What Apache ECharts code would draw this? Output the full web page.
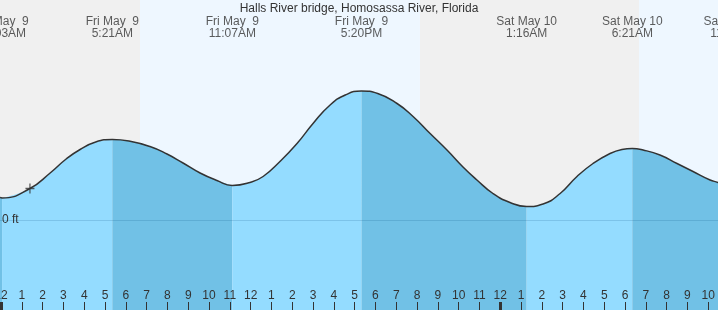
<!DOCTYPE html>
<html>
<head>
<meta charset="utf-8">
<script src="https://cdn.jsdelivr.net/npm/echarts@6/dist/echarts.min.js"></script>
<style>
html,body{margin:0;padding:0;background:#f0f0f0;}
#chart{width:718px;height:310px;}
</style>
</head>
<body>
<div id="chart"></div>
<script>
// ---- Data (hours since Fri May 9 00:00, tide height in feet) ----
const tideHours = [-0.05, 0.05, 1.39, 2.36, 3.13, 3.80, 4.55, 5.35, 6.15, 7.16, 7.98, 8.75, 9.57, 10.38, 11.12,
  11.97, 12.60, 13.41, 14.23, 15.00, 15.82, 16.55, 17.33, 18.11, 19.04, 19.81, 20.63, 21.44, 22.21, 22.88,
  23.65, 24.47, 25.27, 26.06, 26.88, 27.69, 28.46, 29.28, 29.85, 30.35, 30.87, 31.68, 32.50, 33.27, 34.09,
  34.47, 35.23];
const tideFeet = [0.45, 0.44, 0.63, 0.94, 1.22, 1.41, 1.56, 1.61, 1.58, 1.47, 1.32, 1.14, 0.94, 0.79, 0.69,
  0.75, 0.87, 1.17, 1.53, 1.93, 2.30, 2.50, 2.58, 2.53, 2.33, 2.07, 1.73, 1.40, 1.06, 0.80,
  0.53, 0.35, 0.27, 0.32, 0.53, 0.87, 1.13, 1.33, 1.41, 1.43, 1.40, 1.30, 1.13, 0.97, 0.80,
  0.75, 0.62];

const eventHours = [0.05, 5.35, 11.12, 17.33, 25.27, 30.35, 35.23];
const eventKinds = ['low', 'high', 'low', 'high', 'low', 'high', 'low'];
const eventDates = ['Fri May  9', 'Fri May  9', 'Fri May  9', 'Fri May  9', 'Sat May 10', 'Sat May 10', 'Sat May 10'];
const eventTimes = ['12:03AM', '5:21AM', '11:07AM', '5:20PM', '1:16AM', '6:21AM', '11:14AM'];

const dayStarts = [6.68, 30.67];
const dayEnds = [20.14, 36];

const hourTicks = [0,1,2,3,4,5,6,7,8,9,10,11,12,13,14,15,16,17,18,19,20,21,22,23,24,25,26,27,28,29,30,31,32,33,34];
const hourLabels = ['12','1','2','3','4','5','6','7','8','9','10','11','12','1','2','3','4','5','6','7','8','9','10','11','12','1','2','3','4','5','6','7','8','9','10'];
const midnightTicks = [0, 24];
const zeroLevel = [0];

const nowHour = 1.39;
const nowFeet = 0.63;

const xMin = -0.05, xMax = 34.47;
const yMin = -1.8, yMax = 4.4;

// ---- Build ----
const FONT = '"Liberation Sans", Arial, sans-serif';
const TEXT = '#333';
const LIGHT = '#94dcff';
const DARK = '#71c1e6';
const SMOOTH = 0.5;

const tidePts = tideHours.map((h, i) => [h, tideFeet[i]]);

const bounds = [tideHours[0]].concat(eventHours);
const segSeries = [];
for (let i = 0; i < bounds.length - 1; i++) {
  const a = bounds[i], b = bounds[i + 1];
  const pts = tidePts.filter(p => p[0] >= a && p[0] <= b);
  segSeries.push({
    type: 'line', data: pts, smooth: SMOOTH, showSymbol: false, silent: true,
    lineStyle: { width: 0 },
    areaStyle: { color: eventKinds[i] === 'low' ? DARK : LIGHT, opacity: 1, origin: 'start' },
    z: 2
  });
}

const chart = echarts.init(document.getElementById('chart'), null, { renderer: 'canvas' });
chart.setOption({
  animation: false,
  backgroundColor: '#f0f0f0',
  textStyle: { fontFamily: FONT },
  title: {
    text: 'Halls River bridge, Homosassa River, Florida',
    left: 'center', top: 3, padding: 0,
    textStyle: { fontSize: 12, fontWeight: 'normal', color: TEXT, fontFamily: FONT }
  },
  grid: { left: 0, right: 0, top: 0, bottom: 0, containLabel: false, outerBoundsMode: 'none' },
  xAxis: [
    {
      type: 'value', min: xMin, max: xMax, position: 'bottom', z: 10,
      axisLine: { show: false, onZero: false }, splitLine: { show: false },
      axisTick: { show: true, inside: true, length: 8, customValues: hourTicks, lineStyle: { color: TEXT, width: 1 } },
      axisLabel: {
        show: true, inside: true, margin: 8, customValues: hourTicks, color: TEXT, fontSize: 12, fontFamily: FONT,
        formatter: v => hourLabels[hourTicks.indexOf(Math.round(v))]
      }
    },
    {
      type: 'value', min: xMin, max: xMax, position: 'bottom', z: 11,
      axisLine: { show: false, onZero: false }, splitLine: { show: false },
      axisTick: { show: true, inside: true, length: 8, customValues: midnightTicks, lineStyle: { color: TEXT, width: 3 } },
      axisLabel: { show: false }
    }
  ],
  yAxis: [
    {
      type: 'value', min: yMin, max: yMax, z: 10,
      axisLine: { show: false, onZero: false }, axisTick: { show: false }, splitLine: { show: false },
      axisLabel: {
        show: true, inside: true, margin: 2, customValues: zeroLevel, color: TEXT, fontSize: 12, fontFamily: FONT,
        formatter: v => v + ' ft'
      }
    },
    { type: 'value', min: 0, max: 1, show: false }
  ],
  series: [
    {
      type: 'line', data: tidePts, showSymbol: false, silent: true, z: 0,
      lineStyle: { width: 0, opacity: 0 },
      markArea: {
        silent: true,
        itemStyle: { color: '#eef7ff' },
        data: dayStarts.map((s, i) => [{ xAxis: s }, { xAxis: dayEnds[i] }])
      }
    },
    ...segSeries,
    {
      type: 'line', data: tidePts, smooth: SMOOTH, showSymbol: false, silent: true, z: 5,
      lineStyle: { color: '#333', width: 1.5 },
      markLine: {
        silent: true, symbol: 'none', label: { show: false },
        lineStyle: { color: 'rgba(0,70,120,0.16)', type: 'solid', width: 1 },
        data: zeroLevel.map(v => ({ yAxis: v }))
      }
    },
    {
      type: 'scatter', data: [[nowHour, nowFeet]], z: 6, silent: true,
      symbol: 'path://M0,5 L10,5 M5,0 L5,10', symbolSize: [9, 10],
      itemStyle: { color: 'none', borderColor: '#333', borderWidth: 1.3 }
    },
    {
      type: 'scatter', yAxisIndex: 1, clip: false, silent: true, z: 8,
      data: eventHours.map(h => [h, 1]), symbolSize: 0,
      label: {
        show: true, position: 'bottom', distance: 16, color: TEXT, fontSize: 12, lineHeight: 12, fontFamily: FONT,
        align: 'center',
        formatter: p => eventDates[p.dataIndex] + '\n' + eventTimes[p.dataIndex]
      }
    }
  ]
});
</script>
</body>
</html>
